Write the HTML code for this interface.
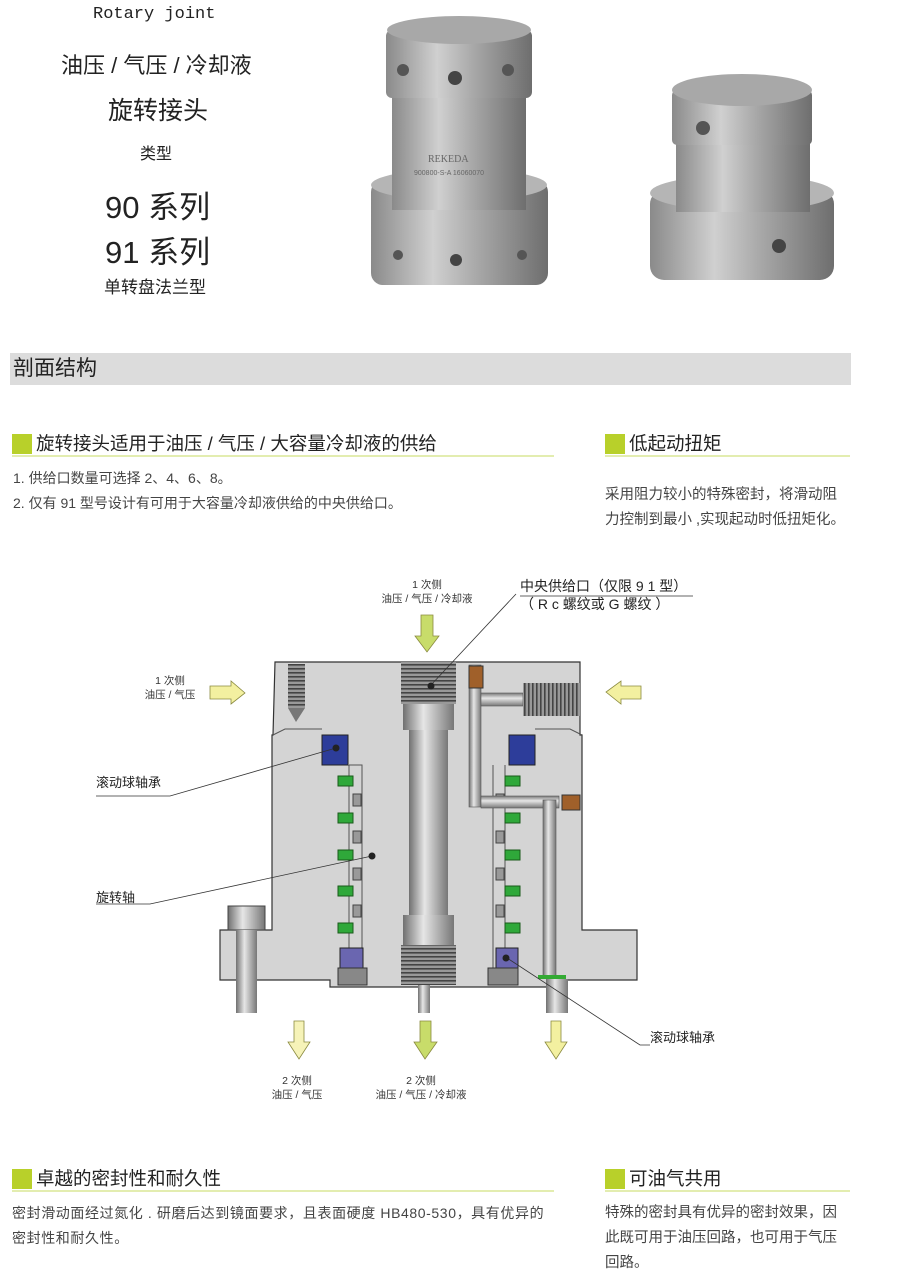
<!DOCTYPE html>
<html><head><meta charset="utf-8"><style>
*{margin:0;padding:0;box-sizing:border-box}
body{width:900px;height:1274px;background:#fff;position:relative;overflow:hidden;font-family:"Liberation Sans","Noto Sans CJK SC",sans-serif;color:#222}
.a{position:absolute;white-space:nowrap}
.h{position:absolute;height:23px;border-bottom:2px solid #e3edb0;font-size:18.5px;line-height:20px}
.h i{display:inline-block;width:20px;height:20px;background:#b8d02a;vertical-align:top;margin-right:4px}
.t{font-size:14px;color:#444;line-height:25px}
.s{font-size:10.5px;color:#333;line-height:14px;text-align:center}
</style></head><body>
<div class="a" style="left:93px;top:5px;font-family:'Liberation Mono',monospace;font-size:17px">Rotary joint</div>
<div class="a" style="left:61px;top:48px;font-size:22px">油压 / 气压 / 冷却液</div>
<div class="a" style="left:108px;top:91px;font-size:25px">旋转接头</div>
<div class="a" style="left:140px;top:140px;font-size:16px">类型</div>
<div class="a" style="left:105px;top:182px;font-size:31px">90 系列</div>
<div class="a" style="left:105px;top:227px;font-size:31px">91 系列</div>
<div class="a" style="left:104px;top:273px;font-size:17px">单转盘法兰型</div>
<div class="a" style="left:10px;top:353px;width:841px;height:32px;background:#dcdcdc;font-size:21px;line-height:32px;padding-left:3px">剖面结构</div>

<div class="h" style="left:12px;top:434px;width:542px"><i></i>旋转接头适用于油压 / 气压 / 大容量冷却液的供给</div>
<div class="a t" style="left:13px;top:466px">1. 供给口数量可选择 2、4、6、8。<br>2. 仅有 91 型号设计有可用于大容量冷却液供给的中央供给口。</div>
<div class="h" style="left:605px;top:434px;width:245px"><i></i>低起动扭矩</div>
<div class="a t" style="left:605px;top:483px;font-size:14.5px">采用阻力较小的特殊密封，将滑动阻<br>力控制到最小 ,实现起动时低扭矩化。</div>

<div class="h" style="left:12px;top:1169px;width:542px"><i></i>卓越的密封性和耐久性</div>
<div class="a t" style="left:12px;top:1201px;letter-spacing:.6px">密封滑动面经过氮化 . 研磨后达到镜面要求，且表面硬度 HB480-530，具有优异的<br>密封性和耐久性。</div>
<div class="h" style="left:605px;top:1169px;width:245px"><i></i>可油气共用</div>
<div class="a t" style="left:605px;top:1201px;font-size:14.5px">特殊的密封具有优异的密封效果，因<br>此既可用于油压回路，也可用于气压<br>回路。</div>

<div class="a s" style="left:372px;top:578px;width:110px">1 次侧<br>油压 / 气压 / 冷却液</div>
<div class="a" style="left:520px;top:577px;font-size:14px;line-height:18px">中央供给口（仅限 9 1 型）<br>（ R c 螺纹或 G 螺纹 ）</div>
<div class="a s" style="left:140px;top:674px;width:60px">1 次侧<br>油压 / 气压</div>
<div class="a" style="left:96px;top:772px;font-size:13px">滚动球轴承</div>
<div class="a" style="left:96px;top:887px;font-size:13px">旋转轴</div>
<div class="a" style="left:650px;top:1027px;font-size:13px">滚动球轴承</div>
<div class="a s" style="left:262px;top:1074px;width:70px">2 次侧<br>油压 / 气压</div>
<div class="a s" style="left:366px;top:1074px;width:110px">2 次侧<br>油压 / 气压 / 冷却液</div>

<svg class="a" style="left:0;top:0" width="900" height="1274">
<defs>
<linearGradient id="m" x1="0" x2="1"><stop offset="0" stop-color="#8a8a8a"/><stop offset=".35" stop-color="#d0d0d0"/><stop offset=".6" stop-color="#a8a8a8"/><stop offset="1" stop-color="#6e6e6e"/></linearGradient>
<linearGradient id="p" x1="0" x2="1"><stop offset="0" stop-color="#707070"/><stop offset=".4" stop-color="#e6e6e6"/><stop offset="1" stop-color="#777"/></linearGradient>
<linearGradient id="ph" y1="0" y2="1" x1="0" x2="0"><stop offset="0" stop-color="#777"/><stop offset=".4" stop-color="#e6e6e6"/><stop offset="1" stop-color="#777"/></linearGradient>
<pattern id="th" width="4" height="4" patternUnits="userSpaceOnUse"><rect width="4" height="4" fill="#999"/><rect width="4" height="1.6" fill="#444"/></pattern>
<pattern id="tv" width="4" height="4" patternUnits="userSpaceOnUse"><rect width="4" height="4" fill="#999"/><rect width="1.6" height="4" fill="#444"/></pattern>
</defs>
<!-- photos -->
<g>
<rect x="371" y="180" width="177" height="105" rx="12" fill="url(#m)"/>
<ellipse cx="459" cy="185" rx="88" ry="16" fill="#b5b5b5"/>
<rect x="392" y="90" width="134" height="120" fill="url(#m)"/>
<rect x="386" y="30" width="146" height="68" rx="6" fill="url(#m)"/>
<ellipse cx="459" cy="30" rx="72" ry="14" fill="#a8a8a8"/>
<text x="428" y="162" font-size="10" fill="#666" font-family="Liberation Serif">REKEDA</text>
<text x="414" y="175" font-size="7" fill="#666">900800-S-A 16060070</text>
<circle cx="456" cy="260" r="6" fill="#444"/><circle cx="398" cy="255" r="5" fill="#555"/><circle cx="522" cy="255" r="5" fill="#555"/>
<circle cx="455" cy="78" r="7" fill="#444"/><circle cx="403" cy="70" r="6" fill="#555"/><circle cx="508" cy="70" r="6" fill="#555"/>
<rect x="650" y="190" width="184" height="90" rx="14" fill="url(#m)"/>
<ellipse cx="742" cy="193" rx="92" ry="18" fill="#b5b5b5"/>
<rect x="676" y="140" width="134" height="72" fill="url(#m)"/>
<rect x="672" y="90" width="140" height="55" rx="5" fill="url(#m)"/>
<ellipse cx="742" cy="90" rx="70" ry="16" fill="#a8a8a8"/>
<circle cx="703" cy="128" r="7" fill="#555"/><circle cx="779" cy="246" r="7" fill="#444"/>
</g>
<!-- diagram body -->
<path d="M275 662 H580 V735 H582 V930 H637 V980 H555 V987 H330 V980 H220 V930 H272 V735 H273 Z" fill="#d4d4d4" stroke="#333" stroke-width="1.2"/>
<path d="M273 735 L285 729 H322 M535 729 H570 L582 735 M349 765 V985 M505 765 V985 M349 765 L362 765 V980 M493 765 V980" fill="none" stroke="#555" stroke-width="1"/>
<rect x="288" y="664" width="17" height="44" fill="url(#th)"/><path d="M288 708 L296 722 L305 708Z" fill="#777"/>
<!-- shaft -->
<rect x="401" y="662" width="55" height="42" fill="url(#th)"/>
<rect x="403" y="704" width="51" height="26" fill="url(#p)"/>
<rect x="409" y="730" width="39" height="185" fill="url(#p)"/>
<rect x="403" y="915" width="51" height="30" fill="url(#p)"/>
<rect x="401" y="945" width="55" height="40" fill="url(#th)"/>
<rect x="418" y="985" width="12" height="28" fill="url(#p)"/>
<!-- bearings -->
<rect x="322" y="735" width="26" height="30" fill="#2d3d9a" stroke="#222"/>
<rect x="509" y="735" width="26" height="30" fill="#2d3d9a" stroke="#222"/>
<rect x="340" y="948" width="23" height="20" fill="#6a66b0" stroke="#222"/>
<rect x="496" y="948" width="22" height="20" fill="#6a66b0" stroke="#222"/>
<rect x="338" y="968" width="29" height="17" fill="#888" stroke="#333"/>
<rect x="488" y="968" width="30" height="17" fill="#888" stroke="#333"/>
<g fill="#2fa83a" stroke="#1a5a1a">
<rect x="338" y="776" width="15" height="10"/><rect x="338" y="813" width="15" height="10"/><rect x="338" y="850" width="15" height="10"/><rect x="338" y="886" width="15" height="10"/><rect x="338" y="923" width="15" height="10"/>
<rect x="505" y="776" width="15" height="10"/><rect x="505" y="813" width="15" height="10"/><rect x="505" y="850" width="15" height="10"/><rect x="505" y="886" width="15" height="10"/><rect x="505" y="923" width="15" height="10"/>
</g>
<g fill="#999" stroke="#444">
<rect x="353" y="794" width="8" height="12"/><rect x="353" y="831" width="8" height="12"/><rect x="353" y="868" width="8" height="12"/><rect x="353" y="905" width="8" height="12"/>
<rect x="496" y="794" width="8" height="12"/><rect x="496" y="831" width="8" height="12"/><rect x="496" y="868" width="8" height="12"/><rect x="496" y="905" width="8" height="12"/>
</g>
<!-- channels -->
<rect x="469" y="665" width="12" height="142" fill="url(#p)" stroke="#555" stroke-width=".6"/>
<rect x="481" y="693" width="42" height="13" fill="url(#ph)" stroke="#555" stroke-width=".6"/>
<rect x="523" y="683" width="57" height="33" fill="url(#tv)"/>
<rect x="481" y="796" width="78" height="12" fill="url(#ph)" stroke="#555" stroke-width=".6"/>
<rect x="543" y="800" width="13" height="178" fill="url(#p)" stroke="#555" stroke-width=".6"/>
<rect x="469" y="666" width="14" height="22" fill="#a0602a" stroke="#333"/>
<rect x="562" y="795" width="18" height="15" fill="#a0602a" stroke="#333"/>
<rect x="538" y="975" width="28" height="4" fill="#3a3"/>
<!-- bolts -->
<rect x="228" y="906" width="37" height="24" fill="url(#p)" stroke="#444"/>
<rect x="236" y="930" width="21" height="83" fill="url(#p)"/>
<rect x="546" y="979" width="22" height="34" fill="url(#p)"/>
<!-- leader lines -->
<g stroke="#333" stroke-width=".8" fill="none">
<path d="M516 594 L431 685"/><path d="M96 796 H170 L336 748"/><path d="M96 904 H150 L372 856"/><path d="M650 1045 H640 L507 958"/><path d="M520 596 H693"/>
</g>
<g fill="#222"><circle cx="431" cy="686" r="3.5"/><circle cx="336" cy="748" r="3.5"/><circle cx="372" cy="856" r="3.5"/><circle cx="506" cy="958" r="3.5"/></g>
<!-- arrows -->
<g stroke="#8a8a40" stroke-width=".8">
<path d="M210 686 H231 V681 L245 693 L231 704 V699 H210Z" fill="#f3f0a0"/>
<path d="M641 686 H621 V681 L606 692 L621 704 V699 H641Z" fill="#f3f0a0"/>
<path d="M421 615 H433 V636 H439 L427 652 L415 636 H421Z" fill="#c8dc6a"/>
<path d="M294 1021 H304 V1042 H310 L299 1059 L288 1042 H294Z" fill="#f6f3b8"/>
<path d="M420 1021 H431 V1042 H437 L425 1059 L414 1042 H420Z" fill="#c8dc6a"/>
<path d="M551 1021 H561 V1042 H567 L556 1059 L545 1042 H551Z" fill="#f3f0a0"/>
</g>
</svg>
</body></html>
